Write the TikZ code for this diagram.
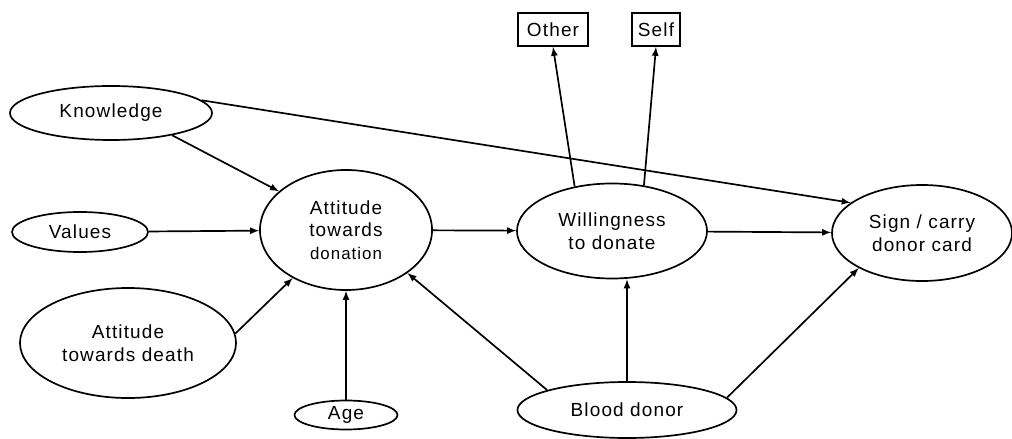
\documentclass[tikz,border=0pt]{standalone}
\usepackage{fontspec}
\setmainfont[LetterSpace=6]{Liberation Sans}
\usetikzlibrary{shapes.geometric,arrows}

\begin{document}
\begin{tikzpicture}[x=0.025cm,y=-0.025cm,
  oval/.style={draw,ellipse,line width=1.2pt,inner sep=0pt,align=center,
    font=\fontsize{13.5}{16}\selectfont},
  tag/.style={draw,rectangle,line width=1.2pt,inner sep=0pt,
    minimum height=0.825cm,font=\fontsize{13.5}{16}\selectfont},
  link/.style={-latex,line width=1.2pt}]
\useasboundingbox (0,0) rectangle (1012,439);

% factors on the left
\node[oval,minimum width=5.05cm,minimum height=1.35cm] (knowledge) at (111,113) {Knowledge};
\node[oval,minimum width=3.4cm,minimum height=1cm] (values) at (80,232) {Values};
\node[oval,minimum width=5.4cm,minimum height=2.75cm] (death) at (128,343) {Attitude\\towards death};
\node[oval,minimum width=2.575cm,minimum height=0.725cm] (age) at (346,415) {Age};

% main chain
\node[oval,minimum width=4.3cm,minimum height=3cm] (attdon) at (346,230) {Attitude\\towards\\{\fontsize{12}{16}\selectfont donation}};
\node[oval,minimum width=4.75cm,minimum height=2.375cm] (will) at (612,231) {Willingness\\to donate};
\node[oval,minimum width=4.5cm,minimum height=2.4cm] (sign) at (922,233) {Sign / carry\\donor card};
\node[oval,minimum width=5.475cm,minimum height=1.4cm] (blood) at (627,410) {Blood donor};

% who the donation is for
\node[tag,minimum width=1.75cm] (other) at (553,29.5) {Other};
\node[tag,minimum width=1.2cm] (self) at (656,29.5) {Self};

\draw[link] (knowledge.-20) -- (attdon.150);
\draw[link] (knowledge.8) -- (sign.157);
\draw[link] (values) -- (attdon);
\draw[link] (death.5) -- (attdon.222);
\draw[link] (age) -- (attdon);
\draw[link] (attdon) -- (will);
\draw[link] (will.130) -- (other.south);
\draw[link] (will.55) -- (self.south);
\draw[link] (will) -- (sign);
\draw[link] (blood.166) -- (attdon.-35);
\draw[link] (blood.north) -- (will.south -| blood.north);
\draw[link] (blood.7) -- (sign.209);
\end{tikzpicture}
\end{document}
